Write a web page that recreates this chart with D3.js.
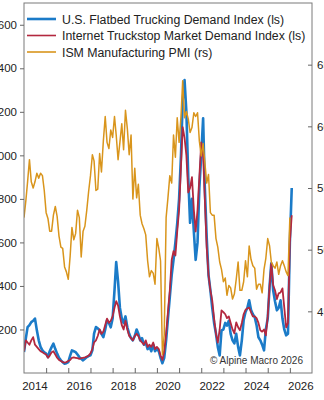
<!DOCTYPE html>
<html><head><meta charset="utf-8">
<script src="https://cdn.jsdelivr.net/npm/d3@7"></script>
<style>html,body{margin:0;padding:0;background:#fff;}svg{display:block;font-family:"Liberation Sans",Arial,sans-serif;}</style>
</head><body><div id="chart"></div>
<script>
const startYear = 2014;
const flatbed = [
 96,160,211,220,234,240,250,196,150,120,104,95,
 89,73,100,119,135,110,89,70,58,50,43,45,
 50,80,104,100,96,85,73,65,58,65,73,78,
 81,104,181,211,205,196,180,165,200,242,230,210,
 250,380,510,420,300,250,230,260,210,180,160,150,
 170,200,180,150,160,130,140,110,120,100,130,100,
 110,100,70,45,70,150,250,350,450,520,600,688,
 800,1000,1250,1346,1200,900,690,800,650,520,600,850,
 1000,1170,853,623,450,380,300,230,180,120,81,196,
 200,230,218,240,180,150,136,180,120,81,150,242,
 280,300,334,290,270,256,220,164,150,130,104,200,
 250,400,504,380,330,288,300,334,250,200,173,180,
 600,850];
const truckstop = [
 100,150,140,130,150,165,130,120,110,100,95,90,
 85,70,80,95,100,85,70,60,55,50,48,50,
 55,60,70,72,70,68,65,68,70,72,75,80,
 90,110,140,150,170,200,180,190,220,250,230,240,
 260,300,330,310,260,220,200,240,200,170,160,150,
 170,180,170,150,140,130,150,120,130,120,140,110,
 120,110,80,60,100,180,280,380,520,560,540,650,
 750,950,1130,1080,1000,830,850,900,750,650,750,900,
 1060,1000,800,577,450,380,334,250,180,140,200,288,
 280,270,252,260,230,200,182,233,210,196,230,270,
 290,297,300,279,260,260,252,230,196,190,200,173,
 260,400,504,403,380,340,366,370,389,300,210,230,
 600,725];
const ism = [
 52.6,54.0,55.5,57.3,55.5,55.0,55.5,56.2,55.8,56.2,56.0,54.8,
 53.0,52.5,51.5,51.5,52.8,53.5,52.7,51.1,50.2,50.1,48.6,48.2,
 47.6,49.5,51.8,50.8,51.3,53.2,52.6,49.4,51.5,51.9,53.2,54.7,
 56.0,57.7,57.2,54.8,54.9,57.8,56.3,58.8,60.8,58.7,58.2,59.7,
 59.1,60.8,59.3,57.3,58.7,60.2,58.1,61.3,59.8,57.7,59.3,54.1,
 56.6,54.2,55.3,52.8,52.1,51.7,51.2,49.1,47.8,48.3,48.1,47.2,
 50.9,50.1,49.1,41.5,43.1,52.6,54.2,56.0,55.4,59.3,57.5,60.7,
 58.7,60.8,63.7,60.7,61.2,60.6,59.5,59.9,61.1,60.8,61.1,58.8,
 57.6,58.6,57.1,55.4,56.1,53.0,52.8,52.8,50.9,50.2,49.0,48.4,
 47.4,47.7,46.3,47.1,46.9,46.0,46.4,47.6,49.0,46.7,46.7,47.4,
 49.1,47.8,50.3,49.2,48.7,48.5,46.8,47.2,47.2,46.5,48.4,49.3,
 50.9,50.3,49.0,48.7,48.5,49.0,48.0,48.7,49.1,48.7,48.2,47.9,
 52.6];
const leftTicks = [200,400,600,800,1000,1200,1400,1600];
const rightTicks = [45,50,55,60,65];
const yearLabels = [2014,2016,2018,2020,2022,2024,2026];
const seriesNames = ["U.S. Flatbed Trucking Demand Index (ls)","Internet Truckstop Market Demand Index (ls)","ISM Manufacturing PMI (rs)"];
const colors = ["#1b7bc8","#b3283f","#d9951c"];
const credit = "© Alpine Macro 2026";

const W=324,H=400, L=24, R=312, T=3, B=373;
const svg=d3.select("#chart").append("svg").attr("width",W).attr("height",H);
const x=d3.scaleTime().domain([new Date(2014,0,1),new Date(2027,0,1)]).range([L,R]);
const yL=d3.scaleLinear().domain([0,1700]).range([B,T]);
const yR=d3.scaleLinear().domain([40,70]).range([B,T]);
const dateOf=i=>new Date(startYear+Math.floor(i/12), i%12, 1);

svg.append("clipPath").attr("id","clip").append("rect").attr("x",L).attr("y",T).attr("width",R-L).attr("height",B-T);

const g=svg.append("g").attr("clip-path","url(#clip)");
const lineL=d3.line().x((d,i)=>x(dateOf(i))).y(d=>yL(d));
const lineR=d3.line().x((d,i)=>x(dateOf(i))).y(d=>yR(d));
g.append("path").datum(flatbed).attr("d",lineL).attr("fill","none").attr("stroke",colors[0]).attr("stroke-width",2.6).attr("stroke-linejoin","round");
g.append("path").datum(truckstop).attr("d",lineL).attr("fill","none").attr("stroke",colors[1]).attr("stroke-width",1.8).attr("stroke-linejoin","round");
g.append("path").datum(ism).attr("d",lineR).attr("fill","none").attr("stroke",colors[2]).attr("stroke-width",1.5).attr("stroke-linejoin","round");

svg.append("rect").attr("x",L).attr("y",T).attr("width",R-L).attr("height",B-T).attr("fill","none").attr("stroke","#7a7a7a").attr("stroke-width",1);

const axL=svg.append("g").attr("transform",`translate(${L},0)`).call(d3.axisLeft(yL).tickValues(leftTicks).tickSize(4).tickPadding(3).tickFormat(d3.format("d")));
const axR=svg.append("g").attr("transform",`translate(${R},0)`).call(d3.axisLeft(yR).tickValues(rightTicks).tickSize(4).tickFormat(d3.format("d")));
axR.selectAll("text").attr("x",5).attr("text-anchor","start");
const yearTicks=d3.range(2015,2027).map(y=>new Date(y,0,1));
const axB=svg.append("g").attr("transform",`translate(0,${B})`).call(d3.axisTop(x).tickValues(yearTicks).tickSize(5).tickFormat(""));
svg.append("g").selectAll("text").data(yearLabels).join("text")
  .attr("x",d=>x(new Date(d,6,1))).attr("y",390).attr("text-anchor","middle")
  .attr("font-size",11.5).attr("fill","#222").text(d=>d);
[axL,axR,axB].forEach(a=>{a.select(".domain").remove();a.selectAll("line").attr("stroke","#666");a.selectAll("text").attr("font-size",11.5).attr("fill","#222").attr("font-family","Liberation Sans, Arial, sans-serif");});

const lg=svg.append("g");
seriesNames.forEach((n,i)=>{
  const yy=19+i*16.5;
  lg.append("line").attr("x1",27).attr("x2",56).attr("y1",yy).attr("y2",yy).attr("stroke",colors[i]).attr("stroke-width",i===0?2.6:1.6);
  lg.append("text").attr("x",62).attr("y",yy+4.5).attr("font-size",12.3).attr("fill","#222").text(n);
});
svg.append("text").attr("x",303).attr("y",364).attr("text-anchor","end").attr("font-size",10).attr("fill","#333").text(credit);
</script></body></html>
